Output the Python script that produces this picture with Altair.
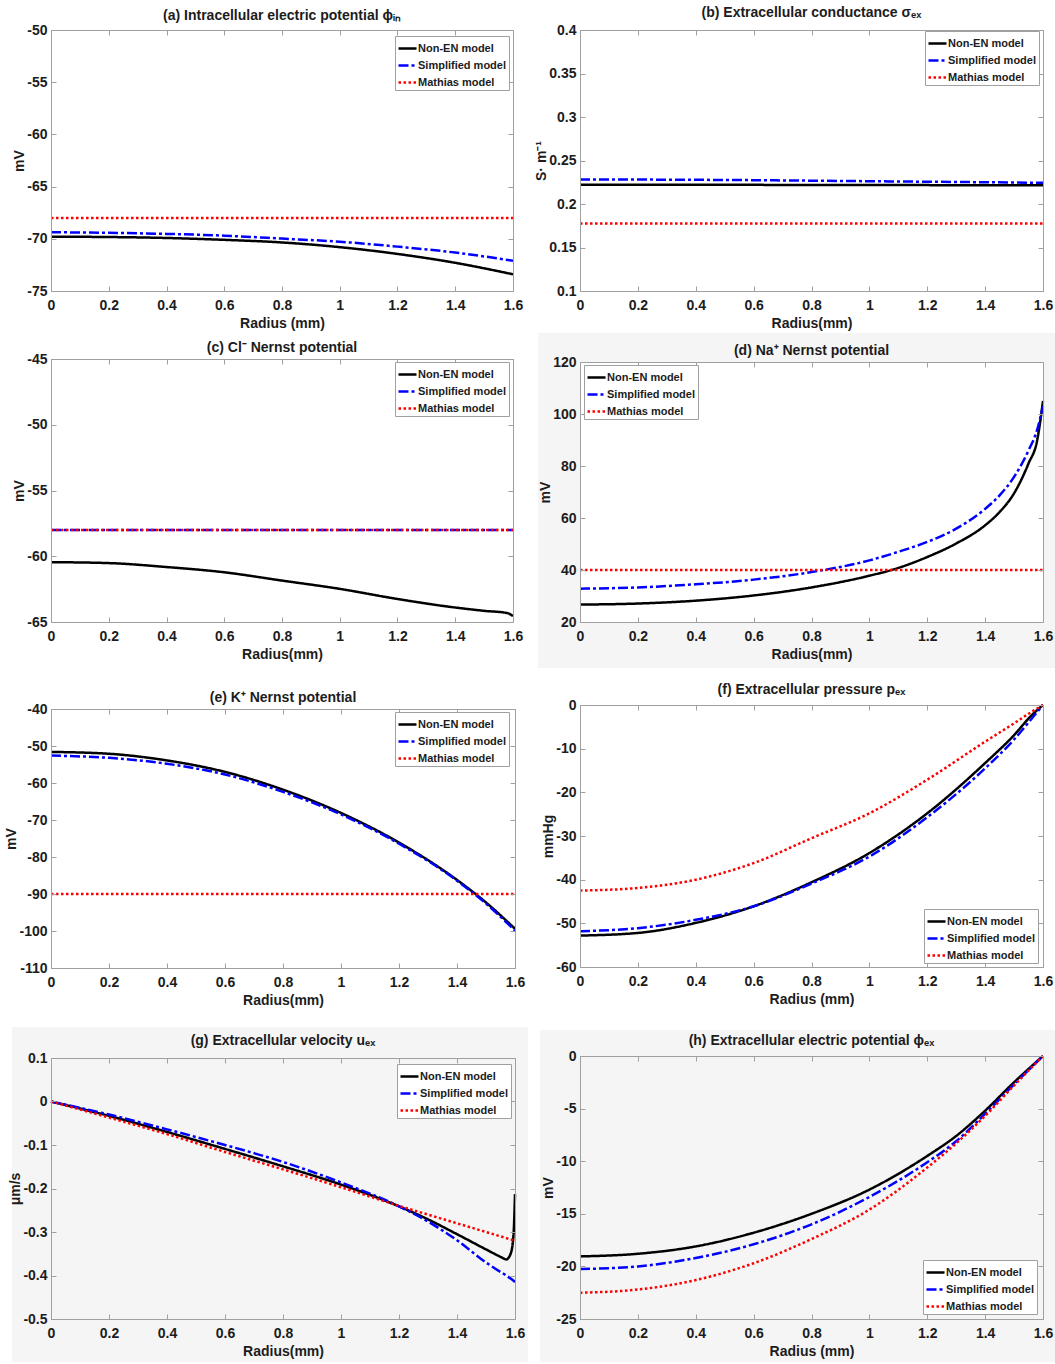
import altair as alt
import pandas as pd

MODELS = ["Non-EN model", "Simplified model", "Mathias model"]
LINE_COLORS = ["#000000", "#0000ff", "#ff0000"]
LINE_DASHES = [[1, 0], [10, 3, 3, 3], [2.5, 2.5]]
RADIUS_TICKS = [0, 0.2, 0.4, 0.6, 0.8, 1, 1.2, 1.4, 1.6]

# (a) intracellular electric potential (mV)
r_a = [0, 0.2, 0.4, 0.6, 0.8, 1.0, 1.2, 1.4, 1.6]
nonen_a = [-69.80, -69.83, -69.92, -70.10, -70.35, -70.80, -71.45, -72.30, -73.40]
simp_a = [-69.37, -69.43, -69.53, -69.70, -69.98, -70.28, -70.75, -71.32, -72.10]
mathias_a = [-68.0, -68.0, -68.0, -68.0, -68.0, -68.0, -68.0, -68.0, -68.0]

# (b) extracellular conductance (S/m)
r_b = [0, 0.2, 0.4, 0.6, 0.8, 1.0, 1.2, 1.4, 1.6]
nonen_b = [0.2222, 0.2222, 0.2221, 0.2220, 0.2219, 0.2218, 0.2217, 0.2216, 0.2215]
simp_b = [0.2283, 0.2281, 0.2278, 0.2274, 0.2268, 0.2262, 0.2256, 0.2250, 0.2244]
mathias_b = [0.1775, 0.1775, 0.1775, 0.1775, 0.1775, 0.1775, 0.1775, 0.1775, 0.1775]

# (c) Cl- Nernst potential (mV)
r_c = [0, 0.2, 0.4, 0.6, 0.8, 1.0, 1.2, 1.4, 1.5, 1.58, 1.6]
nonen_c = [-60.45, -60.52, -60.82, -61.22, -61.85, -62.48, -63.25, -63.90, -64.15, -64.32, -64.55]
simp_c = [-58.0, -58.0, -58.0, -58.0, -58.0, -58.0, -58.0, -58.0, -58.0, -58.0, -58.0]
mathias_c = [-58.0, -58.0, -58.0, -58.0, -58.0, -58.0, -58.0, -58.0, -58.0, -58.0, -58.0]

# (d) Na+ Nernst potential (mV)
r_d = [0, 0.2, 0.4, 0.6, 0.8, 1.0, 1.1, 1.2, 1.3, 1.4, 1.45, 1.5, 1.55, 1.58, 1.6]
nonen_d = [26.7, 27.1, 28.2, 30.2, 33.3, 37.8, 40.8, 45.0, 50.2, 57.2, 62.3, 69.5, 81.0, 90.0, 105.0]
simp_d = [32.8, 33.3, 34.5, 36.3, 39.2, 43.7, 47.0, 50.8, 55.9, 63.5, 68.7, 75.8, 86.0, 94.0, 103.0]
mathias_d = [40.0, 40.0, 40.0, 40.0, 40.0, 40.0, 40.0, 40.0, 40.0, 40.0, 40.0, 40.0, 40.0, 40.0, 40.0]

# (e) K+ Nernst potential (mV)
r_e = [0, 0.2, 0.4, 0.6, 0.8, 1.0, 1.2, 1.4, 1.5, 1.6]
nonen_e = [-51.6, -52.1, -53.9, -57.0, -61.8, -68.1, -76.1, -86.2, -92.3, -99.4]
simp_e = [-52.6, -53.2, -54.8, -57.7, -62.4, -68.5, -76.4, -86.4, -92.6, -99.9]
mathias_e = [-90.0, -90.0, -90.0, -90.0, -90.0, -90.0, -90.0, -90.0, -90.0, -90.0]

# (f) extracellular pressure (mmHg)
r_f = [0, 0.2, 0.4, 0.6, 0.8, 1.0, 1.2, 1.4, 1.5, 1.56, 1.6]
nonen_f = [-52.8, -52.2, -49.9, -46.1, -40.6, -33.9, -24.8, -13.3, -6.9, -2.4, 0.0]
simp_f = [-51.8, -51.1, -49.2, -46.1, -40.9, -34.7, -25.7, -14.5, -7.9, -3.2, 0.0]
mathias_f = [-42.5, -41.9, -40.0, -36.2, -30.5, -24.8, -17.1, -8.4, -4.2, -1.6, 0.0]

# (g) extracellular velocity (um/s)
r_g = [0, 0.2, 0.4, 0.6, 0.8, 1.0, 1.2, 1.3, 1.4, 1.5, 1.55, 1.57, 1.585, 1.595, 1.6]
nonen_g = [0.0, -0.033, -0.070, -0.109, -0.149, -0.191, -0.241, -0.271, -0.305, -0.340,
           -0.357, -0.363, -0.350, -0.305, -0.213]
simp_g = [0.0, -0.030, -0.064, -0.100, -0.139, -0.186, -0.241, -0.276, -0.319, -0.370,
          -0.392, -0.400, -0.407, -0.412, -0.415]
mathias_g = [0.0, -0.037, -0.075, -0.116, -0.156, -0.197, -0.240, -0.260, -0.280, -0.300,
             -0.310, -0.314, -0.317, -0.319, -0.320]

# (h) extracellular electric potential (mV)
r_h = [0, 0.2, 0.4, 0.6, 0.8, 1.0, 1.2, 1.3, 1.4, 1.5, 1.6]
nonen_h = [-19.05, -18.8, -18.1, -16.8, -15.0, -12.7, -9.5, -7.6, -5.2, -2.5, 0.0]
simp_h = [-20.25, -20.0, -19.2, -17.9, -16.0, -13.4, -10.1, -8.1, -5.5, -2.7, 0.0]
mathias_h = [-22.5, -22.2, -21.3, -19.7, -17.4, -14.6, -10.6, -8.3, -5.7, -2.8, 0.0]

FONT = "Liberation Sans"
TICK_FONT = "Liberation Sans Narrow, Liberation Sans"
INK = "#1c1c1c"
FRAME = "#a0a0a0"
SHADE = "#f5f5f5"
TICK_TEXT = "toString(datum.value)"
LABEL_STYLE = dict(labelFont=TICK_FONT, labelFontSize=14, labelFontWeight="bold", labelColor=INK,
                   titleFont=FONT, titleFontSize=14, titleFontWeight="bold", titleColor=INK)

# page layout: plot box (left, top, width, height), cell box (l, t, r, b), shaded box
LEFT = [
    dict(title="(a) Intracellular electric potential ϕᵢₙ", r=r_a, series=[nonen_a, simp_a, mathias_a],
         y_domain=[-75, -50], y_ticks=[-75, -70, -65, -60, -55, -50], y_title="mV", x_title="Radius (mm)",
         plot=(51, 30, 462, 261), cell=(0, 0, 530, 333), title_offset=-23, legend=(344, 6)),
    dict(title="(c) Cl⁻ Nernst potential", r=r_c, series=[nonen_c, simp_c, mathias_c],
         y_domain=[-65, -45], y_ticks=[-65, -60, -55, -50, -45], y_title="mV", x_title="Radius(mm)",
         plot=(51, 359, 462, 263), cell=(0, 333, 530, 680), title_offset=-22, legend=(344, 3)),
    dict(title="(e) K⁺ Nernst potential", r=r_e, series=[nonen_e, simp_e, mathias_e],
         y_domain=[-110, -40], y_ticks=[-110, -100, -90, -80, -70, -60, -50, -40], y_title="mV",
         x_title="Radius(mm)", plot=(51, 709, 464, 259), cell=(0, 680, 530, 1022), title_offset=-25,
         legend=(344, 3)),
    dict(title="(g) Extracellular velocity uₑₓ", r=r_g, series=[nonen_g, simp_g, mathias_g],
         y_domain=[-0.5, 0.1], y_ticks=[-0.5, -0.4, -0.3, -0.2, -0.1, 0, 0.1], y_title="μm/s",
         x_title="Radius(mm)", plot=(51, 1058, 464, 261), cell=(0, 1022, 530, 1364),
         shade=(12, 1027, 528, 1362), title_offset=-26, legend=(346, 6)),
]
RIGHT = [
    dict(title="(b) Extracellular conductance σₑₓ", r=r_b, series=[nonen_b, simp_b, mathias_b],
         y_domain=[0.1, 0.4], y_ticks=[0.1, 0.15, 0.2, 0.25, 0.3, 0.35, 0.4], y_title="S· m⁻¹",
         x_title="Radius(mm)", plot=(580, 30, 463, 261), cell=(530, 0, 1055, 333), title_offset=-20,
         legend=(345, 1)),
    dict(title="(d) Na⁺ Nernst potential", r=r_d, series=[nonen_d, simp_d, mathias_d],
         y_domain=[20, 120], y_ticks=[20, 40, 60, 80, 100, 120], y_title="mV", x_title="Radius(mm)",
         plot=(580, 362, 463, 260), cell=(530, 333, 1055, 668), shade=(538, 333, 1055, 668),
         plot_fill="white", title_offset=-25, legend=(4, 3)),
    dict(title="(f) Extracellular pressure pₑₓ", r=r_f, series=[nonen_f, simp_f, mathias_f],
         y_domain=[-60, 0], y_ticks=[-60, -50, -40, -30, -20, -10, 0], y_title="mmHg",
         x_title="Radius (mm)", plot=(580, 705, 463, 262), cell=(530, 668, 1055, 1028),
         title_offset=-29, legend=(344, 204)),
    dict(title="(h) Extracellular electric potential ϕₑₓ", r=r_h, series=[nonen_h, simp_h, mathias_h],
         y_domain=[-25, 0], y_ticks=[-25, -20, -15, -10, -5, 0], y_title="mV", x_title="Radius (mm)",
         plot=(580, 1056, 463, 263), cell=(530, 1028, 1055, 1364), shade=(540, 1030, 1055, 1362),
         title_offset=-20, legend=(343, 204)),
]


def build_panel(p):
    px, py, w, h = p["plot"]
    rows = []
    for model, values in zip(MODELS, p["series"]):
        for r, v in zip(p["r"], values):
            rows.append({"r": r, "v": v, "model": model})
    df = pd.DataFrame(rows)
    one = pd.DataFrame({"k": [0]})

    def backdrop(box, fill):
        l, t, rr, b = box
        return alt.Chart(one).mark_rect(color=fill, strokeWidth=0).encode(
            x=alt.value(l - px), x2=alt.value(rr - px), y=alt.value(t - py), y2=alt.value(b - py))

    layers = [backdrop(p["cell"], "white")]
    if "shade" in p:
        layers.append(backdrop(p["shade"], SHADE))
    if "plot_fill" in p:
        layers.append(backdrop((px, py, px + w, py + h), p["plot_fill"]))

    xs = alt.Scale(domain=[0, 1.6], nice=False, zero=False)
    ys = alt.Scale(domain=p["y_domain"], nice=False, zero=False)

    main_x = alt.Axis(values=RADIUS_TICKS, labelExpr=TICK_TEXT, title=p["x_title"],
                      ticks=False, domain=False, labelPadding=7, titlePadding=4, zindex=1, **LABEL_STYLE)
    main_y = alt.Axis(values=p["y_ticks"], labelExpr=TICK_TEXT, title=p["y_title"],
                      ticks=False, domain=False, labelPadding=4, titlePadding=0, minExtent=0, zindex=1,
                      **LABEL_STYLE)

    lx, ly = p["legend"]
    legend = alt.Legend(title=None, orient="none", legendX=lx, legendY=ly, zindex=2)
    color = alt.Color("model:N", scale=alt.Scale(domain=MODELS, range=LINE_COLORS), legend=legend)
    dash = alt.StrokeDash("model:N", scale=alt.Scale(domain=MODELS, range=LINE_DASHES), legend=legend)

    def series_line(model, xa, ya):
        return (
            alt.Chart(df).transform_filter(alt.datum.model == model)
            .mark_line(strokeWidth=2.5, interpolate="monotone", strokeCap="butt")
            .encode(
                x=alt.X("r:Q", scale=xs, axis=xa),
                y=alt.Y("v:Q", scale=ys, axis=ya),
                color=color,
                strokeDash=dash,
            )
        )

    # first series carries the labelled axes
    layers.append(series_line(MODELS[0], main_x, main_y))

    # inward ticks and box frame on all four sides
    tick_style = dict(labels=False, title=None, ticks=True, tickSize=5, domain=True, grid=False, zindex=1)
    for xo, yo in (("top", "right"), ("bottom", "left")):
        layers.append(alt.Chart(df).mark_point(opacity=0).encode(
            x=alt.X("r:Q", scale=xs, axis=alt.Axis(orient=xo, offset=-h, values=RADIUS_TICKS, **tick_style)),
            y=alt.Y("v:Q", scale=ys, axis=alt.Axis(orient=yo, offset=-w, values=p["y_ticks"], **tick_style)),
        ))

    for model in MODELS[1:]:
        layers.append(series_line(model, None, None))

    return (
        alt.layer(*layers)
        .properties(width=w, height=h, title=alt.TitleParams(p["title"], offset=p["title_offset"]))
        .resolve_axis(x="independent", y="independent")
    )


def column(panels):
    return (
        alt.vconcat(*[build_panel(p) for p in panels], spacing=0)
        .resolve_scale(x="independent", y="independent", color="independent", strokeDash="independent")
        .resolve_legend(color="independent", strokeDash="independent")
    )


chart = (
    alt.hconcat(column(LEFT), column(RIGHT), spacing=0)
    .resolve_scale(x="independent", y="independent", color="independent", strokeDash="independent")
    .resolve_legend(color="independent", strokeDash="independent")
    .properties(padding={"left": 0, "top": 0, "right": 0, "bottom": 0}, background="white")
    .configure_view(strokeOpacity=0)
    .configure_axis(
        tickColor=FRAME, tickWidth=1, domainColor=FRAME, domainWidth=1,
        grid=False, labelFlush=False, labelOverlap=False,
    )
    .configure_title(font=FONT, fontSize=14, fontWeight="bold", color=INK, anchor="middle")
    .configure_legend(
        labelFont=FONT, labelFontSize=11, labelFontWeight="bold", labelColor=INK,
        symbolType="stroke", symbolSize=324, symbolStrokeWidth=2.5,
        strokeColor=FRAME, fillColor="white", padding=2, rowPadding=1, labelOffset=0,
        cornerRadius=0,
    )
)

chart.save("out.html", embed_options={"renderer": "svg", "actions": False})
